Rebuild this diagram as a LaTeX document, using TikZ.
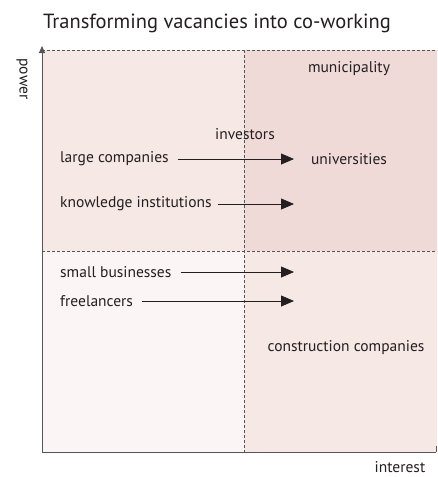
\documentclass[tikz,border=0pt]{standalone}
\usepackage{fontspec}
\setmainfont{PT Sans}
\usepackage{tikz}
\usetikzlibrary{positioning,arrows.meta,calc}
\definecolor{quadhigh}{RGB}{240,218,216}
\definecolor{quadmid}{RGB}{245,232,229}
\definecolor{quadlow}{RGB}{251,246,245}
\definecolor{axisgray}{RGB}{85,85,85}
\definecolor{textgray}{RGB}{35,31,32}

\begin{document}
\begin{tikzpicture}[
  x=1pt,y=-1pt,
  font=\fontsize{15.5}{18}\selectfont,
  lbl/.style={inner sep=0pt,text=textgray},
  grid/.style={axisgray,dashed,dash pattern=on 3pt off 2pt,line width=0.6pt},
  axis/.style={axisgray,line width=0.9pt},
  ar/.style={-{Triangle[length=13pt,width=11pt]},textgray,line width=0.8pt},
]
\useasboundingbox (0,0) rectangle (437,477);
% quadrants
\fill[quadmid] (42,50) rectangle (244,251);
\fill[quadhigh] (244,50) rectangle (437,251);
\fill[quadlow] (42,251) rectangle (244,452);
\fill[quadmid] (244,251) rectangle (437,452);
\draw[grid] (42,50) -- (437,50);
\draw[grid] (42,251) -- (437,251);
\draw[grid] (244,50) -- (244,452);
% axes
\coordinate (orig) at (42,452);
\coordinate (ytop) at (42,46);
\coordinate (xend) at (436,452);
\draw[axis,-{Triangle[length=7pt,width=6pt]}] (orig) -- (ytop);
\draw[axis] (orig) -- (xend);
\draw[axis] (xend) -- ++(0,-6);
% titles
\node[lbl,font=\fontsize{20.5}{24}\selectfont] (title) at (217,23) {Transforming vacancies into co-working};
\node[lbl,rotate=-90] (power) at (22,79) {power};
\node[lbl] (interest) at (400,467) {interest};
% stakeholders
\node[lbl] (muni) at (349,69) {municipality};
\node[lbl] (inv) at (245,134) {investors};
\node[lbl] (univ) at (349,159) {universities};
\node[lbl] (constr) at (346,348) {construction companies};
\node[lbl,anchor=west] (large) at (60,159) {large companies};
\node[lbl,anchor=west] (know) at (60,204) {knowledge institutions};
\node[lbl,anchor=west] (small) at (60,272) {small businesses};
\node[lbl,anchor=west] (free) at (60,301) {freelancers};
% arrows
\coordinate (largeend) at (294,159);
\coordinate (knowend) at (294,204);
\coordinate (smallend) at (294,272);
\coordinate (freeend) at (294,301);
\draw[ar] ($(large.east)+(9,0)$) -- (largeend);
\draw[ar] ($(know.east)+(6,0)$) -- (knowend);
\draw[ar] ($(small.east)+(9,0)$) -- (smallend);
\draw[ar] ($(free.east)+(9,0)$) -- (freeend);
\end{tikzpicture}
\end{document}
